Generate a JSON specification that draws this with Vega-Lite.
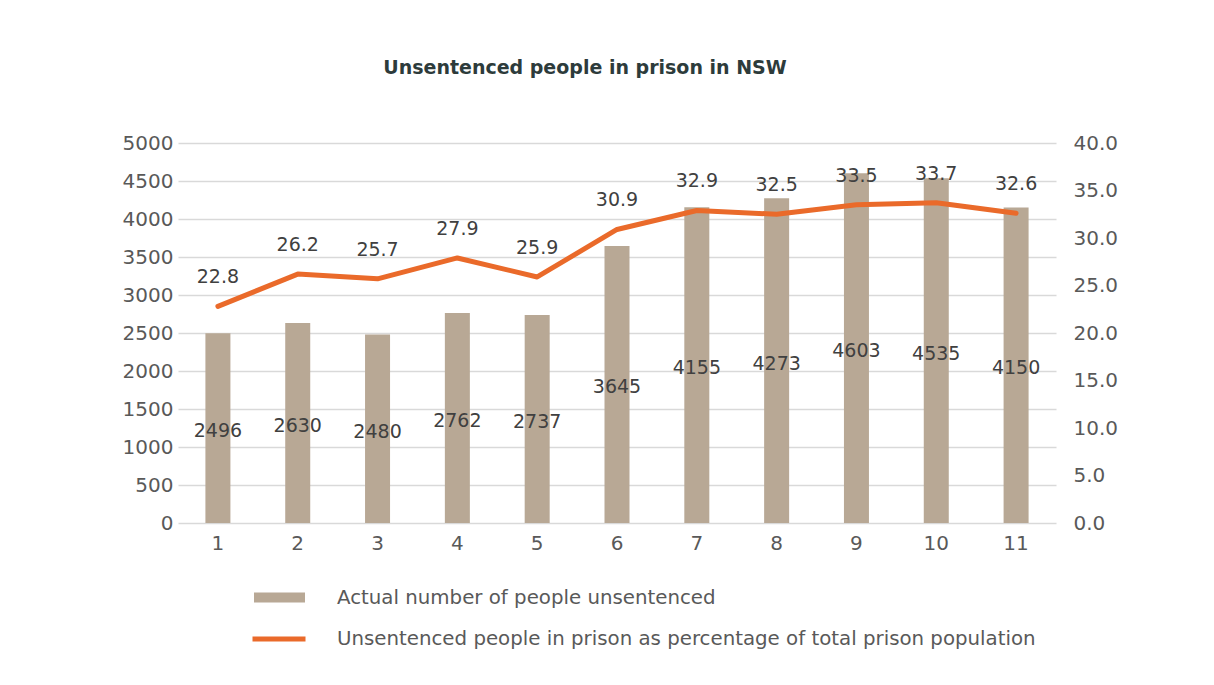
{
  "$schema": "https://vega.github.io/schema/vega-lite/v6.json",
  "width": 878,
  "height": 380,
  "autosize": {"type": "none"},
  "padding": {"left": 178, "top": 143, "right": 158, "bottom": 162},
  "background": "white",
  "title": {
    "text": "Unsentenced people in prison in NSW",
    "font": "DejaVu Sans",
    "fontSize": 19,
    "fontWeight": "bold",
    "color": "#2d3b3b",
    "anchor": "middle",
    "dx": -32,
    "offset": 55
  },
  "data": {
    "values": [
      {"period": "1", "count": 2496, "pct": 22.8},
      {"period": "2", "count": 2630, "pct": 26.2},
      {"period": "3", "count": 2480, "pct": 25.7},
      {"period": "4", "count": 2762, "pct": 27.9},
      {"period": "5", "count": 2737, "pct": 25.9},
      {"period": "6", "count": 3645, "pct": 30.9},
      {"period": "7", "count": 4155, "pct": 32.9},
      {"period": "8", "count": 4273, "pct": 32.5},
      {"period": "9", "count": 4603, "pct": 33.5},
      {"period": "10", "count": 4535, "pct": 33.7},
      {"period": "11", "count": 4150, "pct": 32.6}
    ]
  },
  "encoding": {
    "x": {
      "field": "period",
      "type": "ordinal",
      "sort": null,
      "scale": {"paddingInner": 0, "paddingOuter": 0},
      "axis": {
        "title": null,
        "labelAngle": 0,
        "domain": false,
        "ticks": false,
        "labelPadding": 10,
        "labelFont": "DejaVu Sans",
        "labelFontSize": 20,
        "labelColor": "#595959"
      }
    }
  },
  "layer": [
    {
      "mark": {"type": "bar", "width": 25},
      "encoding": {
        "y": {
          "field": "count",
          "type": "quantitative",
          "scale": {"domain": [0, 5000], "nice": false},
          "axis": {
            "orient": "left",
            "title": null,
            "values": [0, 500, 1000, 1500, 2000, 2500, 3000, 3500, 4000, 4500, 5000],
            "format": "d",
            "domain": false,
            "ticks": false,
            "labelPadding": 5,
            "labelFont": "DejaVu Sans",
            "labelFontSize": 20,
            "labelColor": "#595959",
            "grid": true,
            "gridColor": "#d9d9d9",
            "gridWidth": 1.4
          }
        },
        "fill": {
          "datum": "Actual number of people unsentenced",
          "scale": {"range": ["#b8a895"]},
          "legend": {
            "orient": "none",
            "legendX": 76,
            "legendY": 429,
            "title": null,
            "padding": 0,
            "symbolType": "M-1,-0.2H1V0.2H-1Z",
            "symbolSize": 2601,
            "symbolStrokeWidth": 0,
            "labelOffset": 32,
            "labelFont": "DejaVu Sans",
            "labelFontSize": 19.8,
            "labelColor": "#595959",
            "labelLimit": 0
          }
        }
      }
    },
    {
      "mark": {"type": "text", "font": "DejaVu Sans", "fontSize": 19, "color": "#404040", "baseline": "middle", "dy": 3},
      "encoding": {
        "y": {
          "field": "count",
          "type": "quantitative",
          "scale": {"domain": [0, 10000], "nice": false},
          "axis": null
        },
        "text": {"field": "count", "type": "quantitative", "format": "d"}
      }
    },
    {
      "mark": {"type": "line", "strokeWidth": 5, "strokeCap": "round", "strokeJoin": "round"},
      "encoding": {
        "y": {
          "field": "pct",
          "type": "quantitative",
          "scale": {"domain": [0, 40], "nice": false},
          "axis": {
            "orient": "right",
            "title": null,
            "values": [0, 5, 10, 15, 20, 25, 30, 35, 40],
            "format": ".1f",
            "domain": false,
            "ticks": false,
            "grid": false,
            "labelPadding": 17,
            "labelFont": "DejaVu Sans",
            "labelFontSize": 20,
            "labelColor": "#595959"
          }
        },
        "stroke": {
          "datum": "Unsentenced people in prison as percentage of total prison population",
          "scale": {"range": ["#ea6a2a"]},
          "legend": {
            "orient": "none",
            "legendX": 72,
            "legendY": 467,
            "title": null,
            "padding": 0,
            "symbolType": "stroke",
            "symbolSize": 2809,
            "symbolStrokeWidth": 5,
            "labelOffset": 29,
            "labelFont": "DejaVu Sans",
            "labelFontSize": 19.8,
            "labelColor": "#595959",
            "labelLimit": 0
          }
        }
      }
    },
    {
      "mark": {"type": "text", "font": "DejaVu Sans", "fontSize": 19, "color": "#404040", "baseline": "middle", "dy": -29},
      "encoding": {
        "y": {
          "field": "pct",
          "type": "quantitative",
          "scale": {"domain": [0, 40], "nice": false},
          "axis": null
        },
        "text": {"field": "pct", "type": "quantitative", "format": ".1f"}
      }
    }
  ],
  "resolve": {"scale": {"y": "independent"}},
  "config": {"view": {"stroke": null}, "font": "DejaVu Sans"}
}
